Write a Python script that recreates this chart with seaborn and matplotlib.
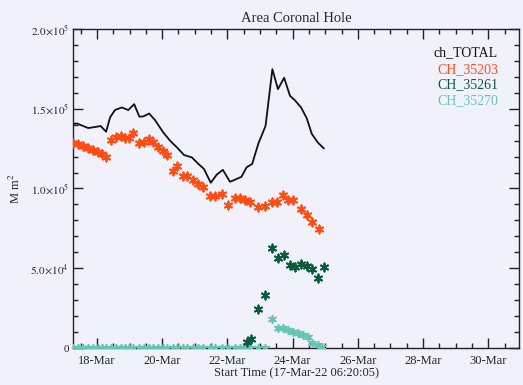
import numpy as np
import pandas as pd
import matplotlib
matplotlib.use("Agg")
import matplotlib.pyplot as plt
import matplotlib.dates as mdates
import seaborn as sns

# ---- data (fractional day of March 2022, area in Mm^2) ----
total_day = [17.26, 17.38, 17.73, 17.99, 18.11, 18.28, 18.40, 18.55, 18.76, 18.96,
             19.14, 19.30, 19.42, 19.60, 19.78, 20.03, 20.24, 20.45, 20.67, 20.91,
             21.10, 21.28, 21.49, 21.67, 21.86, 22.08, 22.23, 22.43, 22.59, 22.76,
             22.95, 23.17, 23.38, 23.55, 23.74, 23.92, 24.07, 24.26, 24.43, 24.59,
             24.77, 24.96]
total_val = [140400, 140800, 137900, 138700, 139200, 135600, 144500, 149200, 150800, 149200,
             152900, 145000, 145200, 147000, 142900, 135200, 130000, 125800, 121000, 119500,
             115600, 112300, 103600, 108600, 111700, 104200, 105500, 107300, 113300, 115400,
             128200, 139200, 174800, 162300, 169400, 158100, 155300, 150800, 144200, 134200,
             128900, 125100]

ch203_day = [17.27, 17.43, 17.58, 17.73, 17.89, 18.04, 18.14, 18.28, 18.42, 18.57,
             18.73, 18.86, 18.99, 19.11, 19.29, 19.44, 19.60, 19.73, 19.88, 20.02,
             20.16, 20.32, 20.46, 20.63, 20.77, 20.94, 21.09, 21.26, 21.47, 21.62,
             21.83, 22.03, 22.23, 22.39, 22.54, 22.69, 22.95, 23.15, 23.36, 23.51,
             23.72, 23.87, 24.02, 24.26, 24.43, 24.59, 24.81]
ch203_val = [128500, 127900, 126400, 125200, 124400, 123100, 121700, 119500, 130600, 132000,
             132700, 131400, 131400, 134800, 128500, 129400, 131000, 129400, 125800, 123700,
             121000, 111200, 113900, 108100, 107700, 105600, 102900, 100800, 95200, 95200,
             96700, 89800, 93900, 93900, 93100, 91400, 88300, 88900, 91400, 91400,
             96000, 93100, 92500, 86900, 83500, 78900, 74400]

ch261_day = [22.59, 22.71, 22.95, 23.15, 23.38, 23.54, 23.75, 23.92, 24.07, 24.26,
             24.43, 24.60, 24.79, 24.97]
ch261_val = [3900, 5400, 24400, 33100, 62700, 56400, 58500, 51900, 50800, 52900,
             51400, 49400, 43900, 50800]

ch270_day = [17.27, 17.43, 17.58, 17.73, 17.89, 18.04, 18.14, 18.28, 18.42, 18.57,
             18.73, 18.86, 18.99, 19.11, 19.29, 19.44, 19.60, 19.73, 19.88, 20.02,
             20.16, 20.32, 20.46, 20.63, 20.77, 20.94, 21.09, 21.26, 21.47, 21.62,
             21.83, 22.03, 22.23, 22.39, 22.54, 22.69, 22.95, 23.15,
             23.36, 23.54, 23.72, 23.87, 24.02, 24.18, 24.33, 24.48, 24.60, 24.77, 24.91]
ch270_val = [0, 0, 0, 0, 0, 0, 0, 0, 0, 0,
             0, 0, 0, 0, 0, 0, 0, 0, 0, 0,
             0, 0, 0, 0, 0, 0, 0, 0, 0, 0,
             0, 0, 0, 0, 0, 0, 0, 0,
             18100, 12300, 12700, 11200, 10200, 9200, 8100, 7100, 2900, 1900, 800]

series_names = ["ch_TOTAL", "CH_35203", "CH_35261", "CH_35270"]
series_colors = ["#111111", "#ff4d14", "#0b5a3c", "#66c4b2"]

y_ticks = [0, 50000, 100000, 150000, 200000]
y_ticklabels = ["0", r"$5.0\!\times\!10^{4}$", r"$1.0\!\times\!10^{5}$",
                r"$1.5\!\times\!10^{5}$", r"$2.0\!\times\!10^{5}$"]

# ---- helpers ----
base = pd.Timestamp("2022-03-01")
def to_time(days):
    return [base + pd.Timedelta(days=d - 1) for d in days]

df_total = pd.DataFrame({"time": to_time(total_day), "area": total_val})
df_203 = pd.DataFrame({"time": to_time(ch203_day), "area": ch203_val})
df_261 = pd.DataFrame({"time": to_time(ch261_day), "area": ch261_val})
df_270 = pd.DataFrame({"time": to_time(ch270_day), "area": ch270_val})

sns.set_style("ticks")
bg = "#f1f1fc"
plt.rcParams["font.family"] = ["Liberation Serif", "DejaVu Serif"]
plt.rcParams["mathtext.fontset"] = "stix"

fig = plt.figure(figsize=(5.23, 3.85), dpi=100, facecolor=bg)
ax = fig.add_axes([73 / 523, 1 - 348 / 385, 446 / 523, 319 / 385])
ax.set_facecolor(bg)

ast = (6, 2, 0)
sns.scatterplot(data=df_270, x="time", y="area", ax=ax, marker=ast, s=30,
                color=series_colors[3], linewidth=1.2, zorder=3)
sns.scatterplot(data=df_261, x="time", y="area", ax=ax, marker=ast, s=34,
                color=series_colors[2], linewidth=1.35, zorder=4)
sns.scatterplot(data=df_203, x="time", y="area", ax=ax, marker=ast, s=34,
                color=series_colors[1], linewidth=1.35, zorder=4)
sns.lineplot(data=df_total, x="time", y="area", ax=ax, color=series_colors[0],
             linewidth=1.3, zorder=5)

x0 = base + pd.Timedelta(days=16, hours=6, minutes=20, seconds=5)
x1 = base + pd.Timedelta(days=29, hours=22, minutes=40)
ax.set_xlim(x0, x1)
ax.set_ylim(0, 200000)

ax.xaxis.set_major_locator(mdates.DayLocator(bymonthday=[18, 20, 22, 24, 26, 28, 30]))
ax.xaxis.set_minor_locator(mdates.HourLocator(byhour=[0, 12]))
ax.xaxis.set_major_formatter(mdates.DateFormatter("%d-%b"))
ax.set_yticks(y_ticks)
ax.set_yticklabels(y_ticklabels)
ax.set_yticks(np.arange(0, 200001, 10000), minor=True)

ax.tick_params(which="both", direction="in", top=True, right=True, color="#222222")
ax.tick_params(which="major", length=7, width=1.0, labelsize=9, pad=5)
ax.tick_params(which="minor", length=3.5, width=1.0)
ax.tick_params(axis="y", which="major", labelsize=8, pad=3)
for sp in ax.spines.values():
    sp.set_color("#222222")
    sp.set_linewidth(1.0)

ax.set_xlabel("Start Time (17-Mar-22 06:20:05)", fontsize=9, labelpad=0)
ax.set_ylabel(r"M m$^{2}$", fontsize=9, labelpad=5)
ax.set_title("Area Coronal Hole", fontsize=10.5, pad=5)

ly = [0.925, 0.873, 0.825, 0.777]
for name, col, yy in zip(series_names, series_colors, ly):
    ax.text(0.953, yy, name, transform=ax.transAxes, ha="right", va="center",
            color=col, fontsize=10)

fig.savefig("out.png", dpi=100, facecolor=bg)
